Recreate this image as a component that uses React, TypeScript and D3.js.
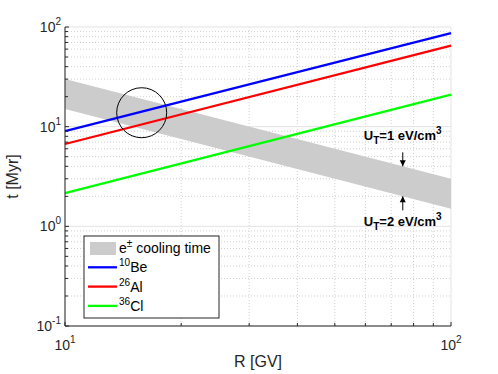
import React, { useEffect, useRef } from "react";
import * as d3 from "d3";

// rigidity R [GV]
const rigidity = [10, 100];
// decay/escape times [Myr]
const be10 = [9.0, 87];
const al26 = [6.7, 65];
const cl36 = [2.15, 21];
// e± cooling time band
const coolUpper = [30, 3];
const coolLower = [15, 1.5];

const xTicks = [10, 100];
const yTicks = [0.1, 1, 10, 100];

// annotations
const markR = 75;
const circleAt = { r: 15.8, t: 13.8 };

const W = 498;
const H = 374;
const margin = { top: 27, right: 47, bottom: 48, left: 65 };

const App = () => {
  const ref = useRef<SVGSVGElement>(null);

  useEffect(() => {
    const svg = d3.select(ref.current);
    svg.selectAll("*").remove();
    const width = W - margin.left - margin.right;
    const height = H - margin.top - margin.bottom;
    const font = "'Liberation Sans', Arial, Helvetica, sans-serif";

    const x = d3.scaleLog().domain([10, 100]).range([0, width]);
    const y = d3.scaleLog().domain([0.1, 100]).range([height, 0]);

    const g = svg.append("g").attr("transform", `translate(${margin.left},${margin.top})`);

    // minor grid
    const minorX: number[] = [];
    for (let k = 2; k <= 9; k++) minorX.push(k * 10);
    const minorY: number[] = [];
    [0.1, 1, 10].forEach(d => { for (let k = 2; k <= 9; k++) minorY.push(d * k); });

    g.selectAll(".mgx").data(minorX).enter().append("line")
      .attr("x1", d => x(d)).attr("x2", d => x(d)).attr("y1", 0).attr("y2", height)
      .style("stroke", "#d0d0d0").style("stroke-width", 1).style("stroke-dasharray", "1,2");
    g.selectAll(".mgy").data(minorY).enter().append("line")
      .attr("y1", d => y(d)).attr("y2", d => y(d)).attr("x1", 0).attr("x2", width)
      .style("stroke", "#d0d0d0").style("stroke-width", 1).style("stroke-dasharray", "1,2");

    // major grid
    g.selectAll(".Mgy").data(yTicks).enter().append("line")
      .attr("y1", d => y(d)).attr("y2", d => y(d)).attr("x1", 0).attr("x2", width)
      .style("stroke", "#e3e3e3").style("stroke-width", 1);
    g.selectAll(".Mgx").data(xTicks).enter().append("line")
      .attr("x1", d => x(d)).attr("x2", d => x(d)).attr("y1", 0).attr("y2", height)
      .style("stroke", "#e3e3e3").style("stroke-width", 1);

    // cooling band
    const bandData = rigidity.map((r, i) => ({ r, hi: coolUpper[i], lo: coolLower[i] }));
    const area = d3.area<any>().x(d => x(d.r)).y0(d => y(d.lo)).y1(d => y(d.hi));
    g.append("path").datum(bandData).attr("d", area).style("fill", "#cccccc");

    // lines
    const line = d3.line<any>().x(d => x(d[0])).y(d => y(d[1]));
    const series = [
      { vals: cl36, color: "#00ff00" },
      { vals: al26, color: "#ff0000" },
      { vals: be10, color: "#0000ff" },
    ];
    series.forEach(s => {
      g.append("path").datum(rigidity.map((r, i) => [r, s.vals[i]]))
        .attr("d", line).style("fill", "none").style("stroke", s.color).style("stroke-width", 2.3);
    });

    // circle
    g.append("circle").attr("cx", x(circleAt.r)).attr("cy", y(circleAt.t)).attr("r", 25)
      .style("fill", "none").style("stroke", "#000").style("stroke-width", 1);

    // axes lines
    g.append("line").attr("x1", 0).attr("x2", 0).attr("y1", 0).attr("y2", height)
      .style("stroke", "#262626").style("stroke-width", 1);
    g.append("line").attr("x1", 0).attr("x2", width).attr("y1", height).attr("y2", height)
      .style("stroke", "#262626").style("stroke-width", 1);

    // ticks
    g.selectAll(".tx").data([...minorX, ...xTicks]).enter().append("line")
      .attr("x1", d => x(d)).attr("x2", d => x(d)).attr("y1", height).attr("y2", d => height - (xTicks.includes(d) ? 4 : 3))
      .style("stroke", "#262626");
    g.selectAll(".ty").data([...minorY, ...yTicks]).enter().append("line")
      .attr("y1", d => y(d)).attr("y2", d => y(d)).attr("x1", 0).attr("x2", d => (yTicks.includes(d) ? 4 : 3))
      .style("stroke", "#262626");

    // tick labels
    const xl = g.selectAll(".xl").data(xTicks).enter().append("text")
      .attr("x", d => x(d)).attr("y", height + 24).attr("text-anchor", "middle")
      .style("font-family", font).style("font-size", "14px").style("fill", "#262626");
    xl.append("tspan").text("10");
    xl.append("tspan").attr("dy", -7).style("font-size", "10px").text(d => String(Math.round(Math.log10(d))));

    const yl = g.selectAll(".yl").data(yTicks).enter().append("text")
      .attr("x", -4).attr("y", d => y(d) + 5).attr("text-anchor", "end")
      .style("font-family", font).style("font-size", "14px").style("fill", "#262626");
    yl.append("tspan").text("10");
    yl.append("tspan").attr("dy", -7).style("font-size", "10px").text(d => String(Math.round(Math.log10(d))));

    // axis titles
    g.append("text").attr("x", width / 2).attr("y", height + 41).attr("text-anchor", "middle")
      .style("font-family", font).style("font-size", "16px").style("fill", "#262626").text("R [GV]");
    g.append("text").attr("transform", `translate(${-47},${height / 2}) rotate(-90)`).attr("text-anchor", "middle")
      .style("font-family", font).style("font-size", "16px").style("fill", "#262626").text("t [Myr]");

    // annotations
    const ax = x(markR);
    const addLabel = (yy: number, val: string) => {
      const t = g.append("text").attr("x", ax).attr("y", yy).attr("text-anchor", "middle")
        .style("font-family", font).style("font-size", "13px").style("font-weight", "bold").style("fill", "#000");
      t.append("tspan").text("U");
      t.append("tspan").attr("dy", 4).style("font-size", "10px").text("T");
      t.append("tspan").attr("dy", -4).text(`=${val} eV/cm`);
      t.append("tspan").attr("dy", -6).style("font-size", "10px").text("3");
    };
    addLabel(113, "1");
    addLabel(199, "2");

    const arrow = (y1: number, y2: number) => {
      g.append("line").attr("x1", ax).attr("x2", ax).attr("y1", y1).attr("y2", y2)
        .style("stroke", "#000").style("stroke-width", 1);
      const dir = Math.sign(y2 - y1);
      g.append("path")
        .attr("d", `M${ax},${y2} L${ax - 3},${y2 - dir * 6} L${ax + 3},${y2 - dir * 6} Z`)
        .style("fill", "#000");
    };
    arrow(y(coolUpper[0] * 10 / markR) - 14, y(coolUpper[0] * 10 / markR));
    arrow(y(coolLower[0] * 10 / markR) + 14, y(coolLower[0] * 10 / markR));

    // legend
    const lg = svg.append("g").attr("transform", "translate(84,236)");
    lg.append("rect").attr("width", 135).attr("height", 82)
      .style("fill", "#fff").style("stroke", "#262626").style("stroke-width", 1);
    const items = [
      { type: "patch", color: "#cccccc", sup: "", label: "" },
      { type: "line", color: "#0000ff", sup: "10", label: "Be" },
      { type: "line", color: "#ff0000", sup: "26", label: "Al" },
      { type: "line", color: "#00ff00", sup: "36", label: "Cl" },
    ];
    items.forEach((it: any, i) => {
      const cy = 12 + i * 19.3;
      if (it.type === "patch") {
        lg.append("rect").attr("x", 6).attr("y", cy - 6).attr("width", 26).attr("height", 13).style("fill", it.color);
      } else {
        lg.append("line").attr("x1", 4).attr("x2", 33).attr("y1", cy).attr("y2", cy)
          .style("stroke", it.color).style("stroke-width", 2.3);
      }
      const t = lg.append("text").attr("x", 35).attr("y", cy + 5)
        .style("font-family", font).style("font-size", "14px").style("fill", "#000");
      if (it.type === "patch") {
        t.append("tspan").text("e");
        t.append("tspan").attr("dy", -6).style("font-size", "10px").text("±");
        t.append("tspan").attr("dy", 6).text(" cooling time");
      } else {
        t.append("tspan").attr("dy", -6).style("font-size", "10px").text(it.sup);
        t.append("tspan").attr("dy", 6).text(it.label);
      }
    });
  }, []);

  return <svg ref={ref} width={W} height={H} style={{ display: "block", position: "absolute", left: 0, top: 0 }} />;
};

export default App;
